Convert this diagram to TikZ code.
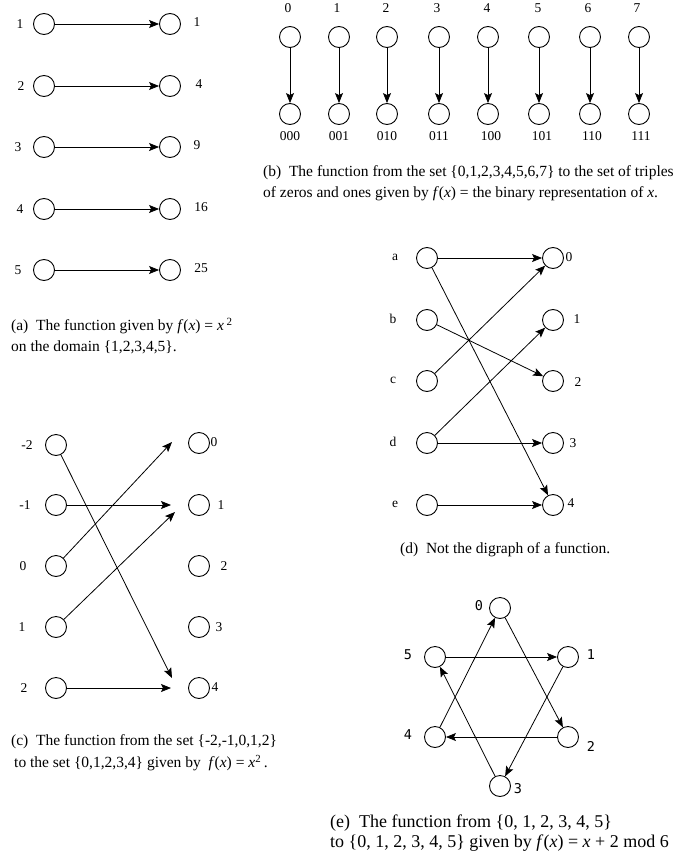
\documentclass[tikz,border=0pt]{standalone}
\usepackage{fontspec}
\setmainfont{Liberation Serif}
\newfontfamily\labmono{DejaVu Sans Mono}
\usetikzlibrary{arrows.meta}
\tikzset{
  vtx/.style={draw, circle, minimum size=21pt, inner sep=0pt, line width=0.9pt},
  fnarrow/.style={-{Stealth[length=10pt,width=8pt,inset=2pt]}, line width=0.8pt},
  capline/.style={anchor=west, inner sep=0pt, font=\fontsize{15.5}{20}\selectfont},
  lab/.style={inner sep=0pt},
  monolab/.style={inner sep=0pt, font=\labmono\fontsize{13.5}{13.5}\selectfont},
}

\begin{document}
\begin{tikzpicture}[x=1pt, y=-1pt, font=\fontsize{13.5}{16}\selectfont]
  \useasboundingbox (0,0) rectangle (678,859);

  % (a) f(x) = x^2 on {1,...,5}
  \node[vtx] (a1) at (44,24) {};  \node[vtx] (sq1) at (170,24) {};
  \node[vtx] (a2) at (44,86) {};  \node[vtx] (sq4) at (170,86) {};
  \node[vtx] (a3) at (44,147) {}; \node[vtx] (sq9) at (170,147) {};
  \node[vtx] (a4) at (44,209) {}; \node[vtx] (sq16) at (170,209) {};
  \node[vtx] (a5) at (44,270) {}; \node[vtx] (sq25) at (170,270) {};
  \draw[fnarrow] (a1) -- (sq1);  \draw[fnarrow] (a2) -- (sq4);
  \draw[fnarrow] (a3) -- (sq9);  \draw[fnarrow] (a4) -- (sq16);
  \draw[fnarrow] (a5) -- (sq25);
  \node[lab] (la1) at (20,24) {1};  \node[lab] (lsq1) at (197,22) {1};
  \node[lab] (la2) at (21,86) {2};  \node[lab] (lsq4) at (199,84) {4};
  \node[lab] (la3) at (18,147) {3}; \node[lab] (lsq9) at (197,145) {9};
  \node[lab] (la4) at (20,209) {4}; \node[lab] (lsq16) at (201,207) {16};
  \node[lab] (la5) at (18,270) {5}; \node[lab] (lsq25) at (201,268) {25};
  \node[capline] (capa1) at (11,326) {(a)\ \ The function given by \textit{f}(\textit{x}) = \textit{x}\,\raisebox{5pt}{\fontsize{11}{11}\selectfont 2}};
  \node[capline] (capa2) at (11,347) {on the domain \{1,2,3,4,5\}.};

  % (b) binary representation
  \node[vtx] (b0) at (290,37) {}; \node[vtx] (bin0) at (290,114) {};
  \node[vtx] (b1) at (339,37) {}; \node[vtx] (bin1) at (339,114) {};
  \node[vtx] (b2) at (387,37) {}; \node[vtx] (bin2) at (387,114) {};
  \node[vtx] (b3) at (439,37) {}; \node[vtx] (bin3) at (439,114) {};
  \node[vtx] (b4) at (488,37) {}; \node[vtx] (bin4) at (488,114) {};
  \node[vtx] (b5) at (539,37) {}; \node[vtx] (bin5) at (539,114) {};
  \node[vtx] (b6) at (590,37) {}; \node[vtx] (bin6) at (590,114) {};
  \node[vtx] (b7) at (639,37) {}; \node[vtx] (bin7) at (639,114) {};
  \draw[fnarrow] (b0) -- (bin0); \draw[fnarrow] (b1) -- (bin1);
  \draw[fnarrow] (b2) -- (bin2); \draw[fnarrow] (b3) -- (bin3);
  \draw[fnarrow] (b4) -- (bin4); \draw[fnarrow] (b5) -- (bin5);
  \draw[fnarrow] (b6) -- (bin6); \draw[fnarrow] (b7) -- (bin7);
  \node[lab] (lb0) at (288,8) {0}; \node[lab] (lb1) at (337,8) {1};
  \node[lab] (lb2) at (386,8) {2}; \node[lab] (lb3) at (437,8) {3};
  \node[lab] (lb4) at (487,8) {4}; \node[lab] (lb5) at (538,8) {5};
  \node[lab] (lb6) at (588,8) {6}; \node[lab] (lb7) at (637,8) {7};
  \node[lab] (lbin0) at (290,136) {000}; \node[lab] (lbin1) at (339,136) {001};
  \node[lab] (lbin2) at (387,136) {010}; \node[lab] (lbin3) at (439,136) {011};
  \node[lab] (lbin4) at (491,136) {100}; \node[lab] (lbin5) at (542,136) {101};
  \node[lab] (lbin6) at (592,136) {110}; \node[lab] (lbin7) at (641,136) {111};
  \node[capline] (capb1) at (263,173) {(b)\ \ The function from the set \{0,1,2,3,4,5,6,7\} to the set of triples};
  \node[capline] (capb2) at (263,194) {of zeros and ones given by \textit{f}(\textit{x}) = the binary representation of \textit{x}.};

  % (c) f(x) = x^2 on {-2,...,2}
  \node[vtx] (cm2) at (56,445) {}; \node[vtx] (csq0) at (199,443) {};
  \node[vtx] (cm1) at (56,505) {}; \node[vtx] (csq1) at (199,505) {};
  \node[vtx] (c0) at (56,566) {};  \node[vtx] (csq2) at (199,566) {};
  \node[vtx] (c1) at (56,627) {};  \node[vtx] (csq3) at (199,627) {};
  \node[vtx] (c2) at (56,688) {};  \node[vtx] (csq4) at (199,688) {};
  \coordinate (tip0) at (172,442);  \coordinate (tip1) at (171,505);
  \coordinate (tip1b) at (175,512); \coordinate (tip4) at (172,678);
  \coordinate (tip4b) at (171,688);
  \draw[fnarrow] (cm2) -- (tip4);  \draw[fnarrow] (cm1) -- (tip1);
  \draw[fnarrow] (c0) -- (tip0);   \draw[fnarrow] (c1) -- (tip1b);
  \draw[fnarrow] (c2) -- (tip4b);
  \node[lab] (lcm2) at (27,445) {-2}; \node[lab] (lcsq0) at (214,442) {0};
  \node[lab] (lcm1) at (25,505) {-1}; \node[lab] (lcsq1) at (221,505) {1};
  \node[lab] (lc0) at (23,566) {0};   \node[lab] (lcsq2) at (224,566) {2};
  \node[lab] (lc1) at (22,627) {1};   \node[lab] (lcsq3) at (219,627) {3};
  \node[lab] (lc2) at (24,688) {2};   \node[lab] (lcsq4) at (215,687) {4};
  \node[capline] (capc1) at (11,742) {(c)\ \ The function from the set \{-2,-1,0,1,2\}};
  \node[capline] (capc2) at (14,763) {to the set \{0,1,2,3,4\} given by\ \ \textit{f}(\textit{x}) = \textit{x}\textsuperscript{2}\,.};

  % (d) not a function
  \node[vtx] (da) at (427,258) {}; \node[vtx] (d0) at (553,258) {};
  \node[vtx] (db) at (427,320) {}; \node[vtx] (d1) at (553,320) {};
  \node[vtx] (dc) at (427,381) {}; \node[vtx] (d2) at (553,381) {};
  \node[vtx] (dd) at (427,443) {}; \node[vtx] (d3) at (553,443) {};
  \node[vtx] (de) at (427,505) {}; \node[vtx] (d4) at (553,505) {};
  \draw[fnarrow] (da) -- (d0); \draw[fnarrow] (da) -- (d4);
  \draw[fnarrow] (db) -- (d2); \draw[fnarrow] (dc) -- (d0);
  \draw[fnarrow] (dd) -- (d1); \draw[fnarrow] (dd) -- (d3);
  \draw[fnarrow] (de) -- (d4);
  \node[lab] (lda) at (395,257) {a}; \node[lab] (ld0) at (569,257) {0};
  \node[lab] (ldb) at (393,319) {b}; \node[lab] (ld1) at (577,319) {1};
  \node[lab] (ldc) at (393,380) {c}; \node[lab] (ld2) at (578,382) {2};
  \node[lab] (ldd) at (393,442) {d}; \node[lab] (ld3) at (573,443) {3};
  \node[lab] (lde) at (395,504) {e}; \node[lab] (ld4) at (571,503) {4};
  \node[capline] (capd) at (400,550) {(d)\ \ Not the digraph of a function.};

  % (e) f(x) = x + 2 mod 6
  \node[vtx] (e0) at (500,608) {};
  \node[vtx] (e5) at (435,657) {}; \node[vtx] (e1) at (568,657) {};
  \node[vtx] (e4) at (435,737) {}; \node[vtx] (e2) at (568,737) {};
  \node[vtx] (e3) at (500,786) {};
  \draw[fnarrow] (e0) -- (e2); \draw[fnarrow] (e1) -- (e3);
  \draw[fnarrow] (e2) -- (e4); \draw[fnarrow] (e3) -- (e5);
  \draw[fnarrow] (e4) -- (e0); \draw[fnarrow] (e5) -- (e1);
  \node[monolab] (le0) at (479,606) {0};
  \node[monolab] (le5) at (408,655) {5}; \node[monolab] (le1) at (591,655) {1};
  \node[monolab] (le4) at (408,735) {4}; \node[monolab] (le2) at (591,746) {2};
  \node[monolab] (le3) at (518,789) {3};
  \node[capline, font=\fontsize{18}{20}\selectfont] (cape1) at (330,823) {(e)\ \ The function from \{0, 1, 2, 3, 4, 5\}};
  \node[capline, font=\fontsize{18}{20}\selectfont] (cape2) at (330,843) {to \{0, 1, 2, 3, 4, 5\} given by \textit{f}(\textit{x}) = \textit{x} + 2 mod 6};
\end{tikzpicture}
\end{document}
